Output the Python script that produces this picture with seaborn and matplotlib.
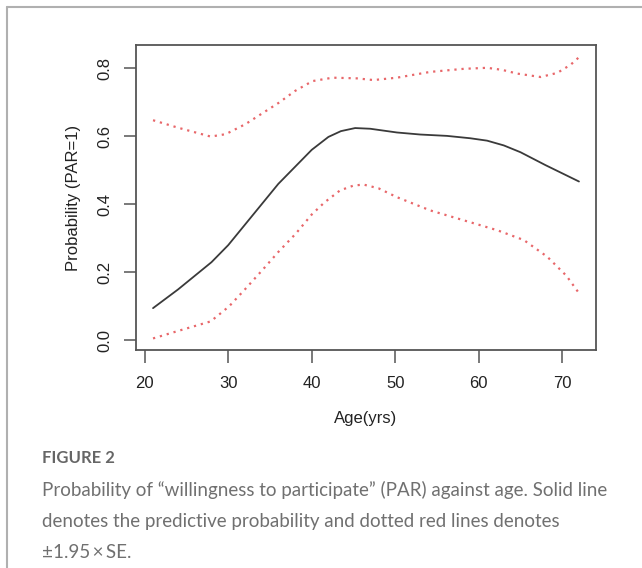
import numpy as np
import pandas as pd
import matplotlib
matplotlib.use("Agg")
import matplotlib.pyplot as plt
import seaborn as sns

# --- values ---
age_fit = [21, 24, 28, 30, 32, 34, 36, 38, 40, 42, 43.5, 45.2, 47, 50.2, 53, 56.2, 59, 61, 63, 65, 68, 72]
prob_fit = [0.095, 0.15, 0.23, 0.28, 0.34, 0.40, 0.46, 0.51, 0.56, 0.598, 0.615, 0.624, 0.622, 0.611, 0.605, 0.601, 0.594, 0.587, 0.573, 0.553, 0.515, 0.467]

age_upper = [21, 24, 27.9, 29.7, 32.1, 34, 36.1, 38, 40.1, 42.5, 45.4, 47.4, 50.2, 54.2, 58.2, 61, 62.8, 64.6, 67.4, 69.4, 71, 72]
prob_upper = [0.647, 0.625, 0.599, 0.606, 0.636, 0.666, 0.699, 0.733, 0.762, 0.772, 0.770, 0.765, 0.772, 0.789, 0.798, 0.801, 0.795, 0.784, 0.774, 0.786, 0.810, 0.832]

age_lower = [21, 24, 27.9, 30.1, 32, 34.1, 36, 38.1, 40, 41.5, 43.4, 45, 46.2, 48, 50.2, 54.2, 58.2, 62.2, 65.4, 68.2, 70.5, 72]
prob_lower = [0.006, 0.028, 0.056, 0.10, 0.15, 0.207, 0.26, 0.314, 0.37, 0.405, 0.441, 0.455, 0.458, 0.447, 0.421, 0.382, 0.353, 0.324, 0.295, 0.246, 0.19, 0.139]

x_ticks = [20, 30, 40, 50, 60, 70]
y_ticks = [0.0, 0.2, 0.4, 0.6, 0.8]

caption_lines = [
    "Probability of \u201cwillingness to participate\u201d (PAR) against age. Solid line",
    "denotes the predictive probability and dotted red lines denotes",
    "\u00b11.95\u2009\u00d7\u2009SE.",
]

fit = pd.DataFrame({"age": age_fit, "prob": prob_fit})
upper = pd.DataFrame({"age": age_upper, "prob": prob_upper})
lower = pd.DataFrame({"age": age_lower, "prob": prob_lower})

sns.set_style("ticks")
plt.rcParams["font.family"] = ["Liberation Sans", "DejaVu Sans"]

fig = plt.figure(figsize=(6.42, 5.68), dpi=100)
ax = fig.add_axes([136 / 642, 1 - 350 / 568, 460 / 642, 305 / 568])

sns.lineplot(data=fit, x="age", y="prob", ax=ax, color="#3a3a3a", lw=1.3, sort=False)
for band in (upper, lower):
    sns.lineplot(data=band, x="age", y="prob", ax=ax, color="#e8676a", lw=1.6,
                 linestyle=(0, (1, 2.2)), sort=False)

# R-style 4% padding on both axes
ax.set_xlim(18.96, 74.04)
ax.set_ylim(-0.028, 0.868)
ax.set_xticks(x_ticks)
ax.set_yticks(y_ticks)
ax.set_yticklabels([f"{v:.1f}" for v in y_ticks], rotation=90, va="center")
ax.tick_params(length=9, width=1.1, color="#555555", labelsize=12, labelcolor="#222222")
ax.tick_params(axis="x", pad=10)
ax.tick_params(axis="y", pad=8)
ax.set_xlabel("Age(yrs)", fontsize=12, labelpad=14, color="#222222")
ax.set_ylabel("Probability (PAR=1)", fontsize=12, labelpad=12, color="#222222")
for sp in ax.spines.values():
    sp.set_color("#555555")
    sp.set_linewidth(1.3)

# outer frame (left and top edges of the figure panel)
fig.add_artist(plt.Line2D([7 / 642, 7 / 642], [0, 1 - 7 / 568], transform=fig.transFigure, color="#b0b0b0", lw=1.5))
fig.add_artist(plt.Line2D([7 / 642, 1], [1 - 7 / 568, 1 - 7 / 568], transform=fig.transFigure, color="#b0b0b0", lw=1.5))

cap_font = ["Lato", "DejaVu Sans"]
fig.text(42 / 642, 1 - 458 / 568, "FIGURE 2", fontsize=12, color="#666666",
         family=cap_font, weight="bold", va="center")
for i, line in enumerate(caption_lines):
    fig.text(42 / 642, 1 - (490 + 31 * i) / 568, line, fontsize=13.5, color="#707070",
             family=cap_font, weight="normal", va="center")

fig.savefig("out.png", dpi=100)
